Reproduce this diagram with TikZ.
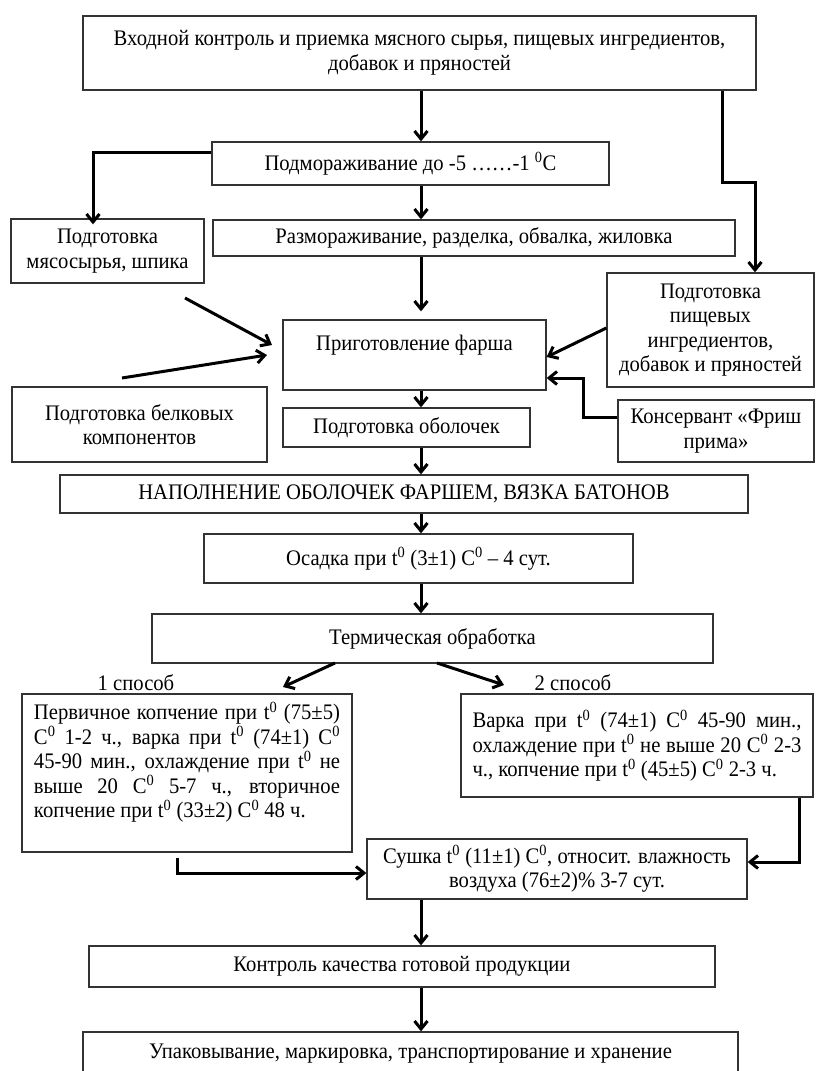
\documentclass[tikz,border=0pt]{standalone}
\usepackage{fontspec}
\setmainfont[FakeStretch=0.93]{Liberation Serif}
\usetikzlibrary{arrows.meta}
\newcommand{\dg}{\textsuperscript{0}}
\begin{document}
\begin{tikzpicture}[x=1pt,y=-1pt,
  box/.style={draw=black!80, line width=1.3pt, rectangle, inner sep=0pt,
    align=center, font=\fontsize{22.2}{24.5}\selectfont},
  arr/.style={line width=3pt, -{Straight Barb[length=8pt,width=13pt]}},
  lbl/.style={inner sep=0pt, font=\fontsize{22.2}{24.5}\selectfont}]
\useasboundingbox (0,0) rectangle (815,1071);
\fill[white] (0,0) rectangle (815,1071);
\clip (0,0) rectangle (815,1071);

% boxes
\node[box, minimum width=673pt, minimum height=74pt] (b1) at (419.5,53)
  {Входной контроль и приемка мясного сырья, пищевых ингредиентов,\\добавок и пряностей};
\node[box, minimum width=397pt, minimum height=43pt] (b2) at (410.5,163.5)
  {Подмораживание до -5 ……-1 \dg C};
\node[box, minimum width=193pt, minimum height=64pt] (bL1) at (107.5,251)
  {Подготовка\\мясосырья, шпика};
\node[box, minimum width=522pt, minimum height=36pt] (b3) at (474,238)
  {Размораживание, разделка, обвалка, жиловка};
\node[box, minimum width=207pt, minimum height=114pt] (bR1) at (710.5,330)
  {Подготовка\\пищевых\\ингредиентов,\\добавок и пряностей};
\node[box, minimum width=263pt, minimum height=70pt] (b4) at (414.5,355)
  {Приготовление фарша\\\mbox{}};
\node[box, minimum width=255pt, minimum height=75pt] (bL2) at (139.5,424.5)
  {Подготовка белковых\\компонентов};
\node[box, minimum width=247pt, minimum height=39pt] (b5) at (406.5,427.5)
  {Подготовка оболочек};
\node[box, minimum width=196pt, minimum height=62pt] (bR2) at (716,431)
  {Консервант «Фриш\\прима»};
\node[box, minimum width=688pt, minimum height=38pt] (b6) at (404,494)
  {НАПОЛНЕНИЕ ОБОЛОЧЕК ФАРШЕМ, ВЯЗКА БАТОНОВ};
\node[box, minimum width=429pt, minimum height=49pt] (b7) at (418.5,558.5)
  {Осадка при t\dg{} (3±1) C\dg{} – 4 сут.};
\node[box, minimum width=561pt, minimum height=49pt] (b8) at (432.5,638.5)
  {Термическая обработка};
\node[box, minimum width=330pt, minimum height=158pt, align=left] (b9) at (187,773)
  {\makebox[306pt][s]{Первичное копчение при t\dg{} (75±5)}\\
   \makebox[306pt][s]{C\dg{} 1-2 ч., варка при t\dg{} (74±1) C\dg}\\
   \makebox[306pt][s]{45-90 мин., охлаждение при t\dg{} не}\\
   \makebox[306pt][s]{выше 20 C\dg{} 5-7 ч., вторичное}\\
   \makebox[306pt][l]{копчение при t\dg{} (33±2) C\dg{} 48 ч.}\\[2pt]\mbox{}};
\node[box, minimum width=352pt, minimum height=103pt, align=left] (b10) at (637,745.5)
  {\makebox[329pt][s]{Варка при t\dg{} (74±1) C\dg{} 45-90 мин.,}\\
   \makebox[329pt][s]{охлаждение при t\dg{} не выше 20 C\dg{} 2-3}\\
   \makebox[329pt][l]{ч., копчение при t\dg{} (45±5) C\dg{} 2-3 ч.}};
\node[box, minimum width=380pt, minimum height=60pt] (b11) at (557,869)
  {Сушка t\dg{} (11±1) C\dg, относит. влажность\\воздуха (76±2)\% 3-7 сут.};
\node[box, minimum width=626pt, minimum height=41pt] (b12) at (402,966.5)
  {Контроль качества готовой продукции};
\node[box, minimum width=655pt, minimum height=53pt, text depth=14pt] (b13) at (410.5,1058.5)
  {Упаковывание, маркировка, транспортирование и хранение};

% labels
\node[lbl] (s1) at (136,683) {1 способ};
\node[lbl] (s2) at (573,683) {2 способ};

% helper coordinates
\coordinate (ax) at (421,0);
\coordinate (r1) at (722,0);
\coordinate (r2) at (755,182);
\coordinate (l1) at (0,152);
\coordinate (l2) at (93,0);
\coordinate (pA) at (0,328);
\coordinate (pB) at (0,357);
\coordinate (k1) at (0,417);
\coordinate (k2) at (583,378);
\coordinate (m1) at (185,298);
\coordinate (m2) at (272,345);
\coordinate (n1) at (122,378);
\coordinate (n2) at (267,355);
\coordinate (t1) at (335,663);
\coordinate (t2) at (283,687);
\coordinate (u1) at (437,663);
\coordinate (u2) at (504,685);
\coordinate (c1) at (177,0);
\coordinate (c2) at (0,873);
\coordinate (c3) at (799,0);
\coordinate (c4) at (0,862);

% main axis
\draw[arr] (b1.south -| ax) -- (b2.north -| ax);
\draw[arr] (b2.south -| ax) -- (b3.north -| ax);
\draw[arr, shorten >=8pt] (b3.south -| ax) -- (b4.north -| ax);
\draw[arr] (b4.south -| ax) -- (b5.north -| ax);
\draw[arr] (b5.south -| ax) -- (b6.north -| ax);
\draw[arr] (b6.south -| ax) -- (b7.north -| ax);
\draw[arr] (b7.south -| ax) -- (b8.north -| ax);
\draw[arr] (b11.south -| ax) -- (b12.north -| ax);
\draw[arr] (b12.south -| ax) -- (b13.north -| ax);

% side connectors
\draw[arr] (b1.south -| r1) |- (r2) -- (bR1.north -| r2);
\draw[arr] (b2.west |- l1) -| ([yshift=-6pt]bL1.north -| l2);
\draw[arr] (bR1.west |- pA) -- (b4.east |- pB);
\draw[arr] (bR2.west |- k1) -| (k2) -- (b4.east |- k2);
\draw[arr] (m1) -- (m2);
\draw[arr] (n1) -- (n2);
\draw[arr] (t1) -- (t2);
\draw[arr] (u1) -- (u2);
\draw[arr, shorten <=5pt] (b9.south -| c1) |- (b11.west |- c2);
\draw[arr] (b10.south -| c3) |- (b11.east |- c4);
\end{tikzpicture}
\end{document}
